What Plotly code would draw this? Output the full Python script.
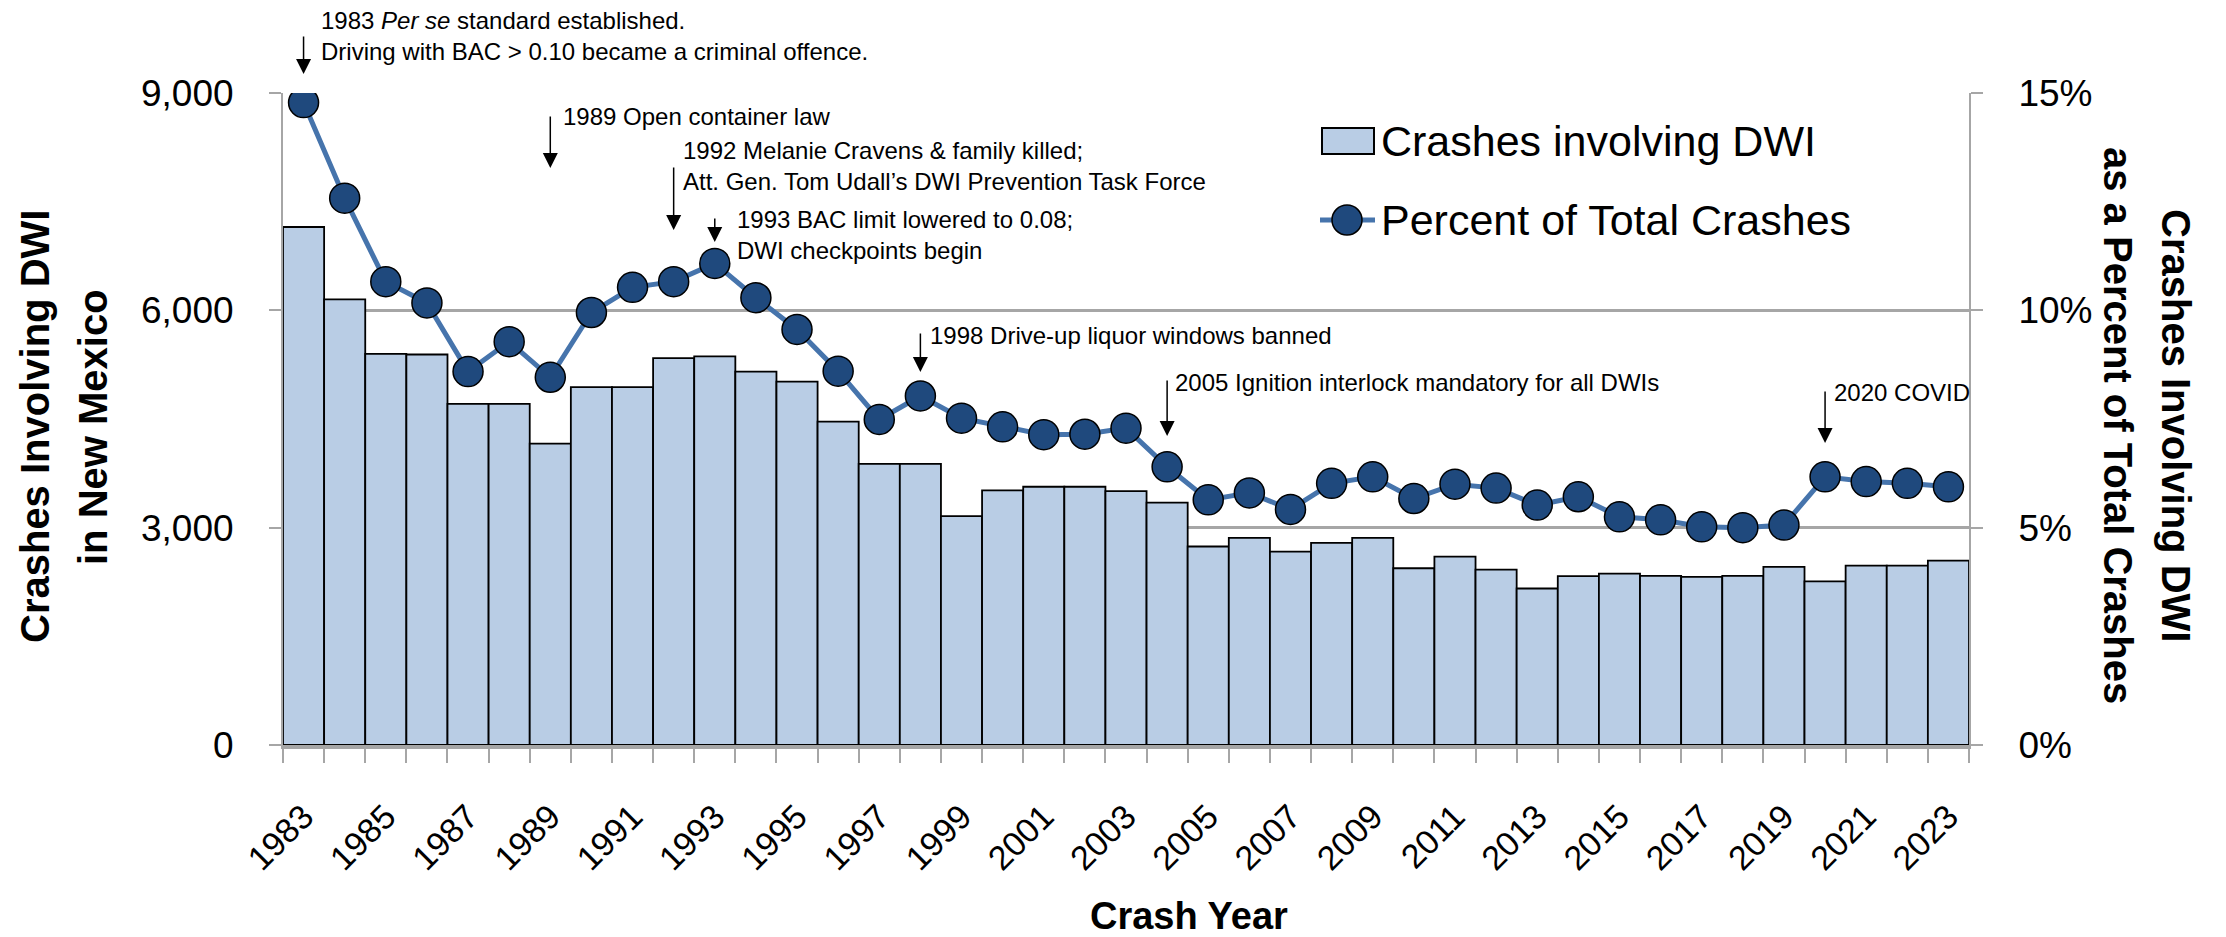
import plotly.graph_objects as go

# ---------------- data ----------------
years = list(range(1983, 2024))
dwi_crashes = [7150, 6150, 5400, 5390, 4710, 4710, 4160, 4940, 4940, 5340,
               5365, 5155, 5015, 4465, 3880, 3880, 3160, 3515, 3565, 3565,
               3505, 3345, 2740, 2860, 2670, 2790, 2860, 2440, 2600, 2420,
               2160, 2330, 2365, 2335, 2320, 2335, 2460, 2260, 2475, 2475,
               2545]
pct_total = [14.78, 12.58, 10.66, 10.17, 8.59, 9.28, 8.46, 9.95, 10.53, 10.66,
             11.08, 10.29, 9.56, 8.60, 7.49, 8.03, 7.52, 7.32, 7.14, 7.15,
             7.29, 6.40, 5.64, 5.80, 5.42, 6.02, 6.17, 5.67, 6.00, 5.91,
             5.52, 5.71, 5.25, 5.18, 5.02, 5.00, 5.06, 6.17, 6.06, 6.02,
             5.94]
pct_frac = [v / 100 for v in pct_total]
label_years = years[::2]
label_text = [str(y) for y in label_years]
left_ticks = [0, 3000, 6000, 9000]
right_ticks = [0, 0.05, 0.10, 0.15]

event_years = [1983, 1989, 1992, 1993, 1998, 2004, 2020]
event_texts = [
    "1983 <i>Per se</i> standard established.<br>Driving with BAC > 0.10 became a criminal offence.",
    "1989 Open container law",
    "1992 Melanie Cravens & family killed;<br>Att. Gen. Tom Udall’s DWI Prevention Task Force",
    "1993 BAC limit lowered to 0.08;<br>DWI checkpoints begin",
    "1998 Drive-up liquor windows banned",
    "2005 Ignition interlock mandatory for all DWIs",
    "2020 COVID",
]

# ---------------- layout geometry (pixels) ----------------
W, H = 2226, 937
L, R, T, B = 283, 1969, 93, 745
PW, PH = R - L, B - T

def px_x(x):
    return (x - L) / PW

def px_y(y):
    return (B - y) / PH

# (arrow tail y, arrow tip y, text centre y, text x shift)
event_layout = [
    (35, 74, 36, 15),
    (115, 168, 116, 11),
    (166, 230, 166, 7),
    (217, 242, 235, 20),
    (332, 372, 335, 8),
    (379, 436, 382, 6),
    (390, 443, 392, 7),
]

BAR_FILL = "#B9CDE5"
LINE_COL = "#4674AC"
MARK_COL = "#1F497D"
GRID = "#A6A6A6"
FONT = "Liberation Sans, Arial, sans-serif"

fig = go.Figure()
fig.add_trace(go.Bar(
    x=years, y=dwi_crashes, width=1,
    marker=dict(color=BAR_FILL, line=dict(color="black", width=1.8)),
    name="Crashes involving DWI", showlegend=False, yaxis="y"))
fig.add_trace(go.Scatter(
    x=years, y=pct_frac, mode="lines+markers",
    line=dict(color=LINE_COL, width=5),
    marker=dict(size=30, color=MARK_COL, line=dict(color="black", width=1.5)),
    name="Percent of Total Crashes", showlegend=False, yaxis="y2"))

boundaries = [y - 0.5 for y in years] + [years[-1] + 0.5]

fig.update_layout(
    width=W, height=H,
    margin=dict(l=L, r=W - R, t=T, b=H - B),
    paper_bgcolor="white", plot_bgcolor="white",
    font=dict(family=FONT, color="black"),
    xaxis=dict(
        range=[years[0] - 0.5, years[-1] + 0.5],
        tickmode="array", tickvals=label_years, ticktext=label_text,
        tickangle=-45, ticks="", ticklabelstandoff=34,
        tickfont=dict(size=34, family=FONT),
        showline=True, linecolor=GRID, linewidth=4,
        showgrid=False, zeroline=False,
        minor=dict(tickmode="array", tickvals=boundaries, ticks="outside",
                   ticklen=14, tickwidth=2, tickcolor=GRID, showgrid=False),
    ),
    yaxis=dict(
        range=[0, 9000], tickmode="array", tickvals=left_ticks,
        tickformat=",", ticks="outside", ticklen=12, tickwidth=2, tickcolor=GRID,
        tickfont=dict(size=37, family=FONT), ticklabelstandoff=28,
        showline=True, linecolor=GRID, linewidth=2,
        showgrid=True, gridcolor=GRID, gridwidth=3, zeroline=False,
    ),
    yaxis2=dict(
        range=[0, 0.15], overlaying="y", side="right",
        tickmode="array", tickvals=right_ticks, tickformat=".0%",
        ticks="outside", ticklen=12, tickwidth=2, tickcolor=GRID,
        tickfont=dict(size=37, family=FONT), ticklabelstandoff=28,
        showline=True, linecolor=GRID, linewidth=2,
        showgrid=False, zeroline=False,
    ),
)

annotations = []
TITLE_FONT = dict(size=40, family=FONT, weight="bold")
# axis titles (one annotation per line)
for txt, cx in [("Crashes Involving DWI", 35), ("in New Mexico", 93)]:
    annotations.append(dict(
        text=txt, textangle=-90, xref="paper", yref="paper",
        x=px_x(cx), y=px_y(427), xanchor="center", yanchor="middle",
        showarrow=False, font=TITLE_FONT))
for txt, cx in [("Crashes Involving DWI", 2176), ("as a Percent of Total Crashes", 2118)]:
    annotations.append(dict(
        text=txt, textangle=90, xref="paper", yref="paper",
        x=px_x(cx), y=px_y(425), xanchor="center", yanchor="middle",
        showarrow=False, font=TITLE_FONT))
annotations.append(dict(
    text="Crash Year", xref="paper", yref="paper",
    x=px_x(1189), y=px_y(916), xanchor="center", yanchor="middle",
    showarrow=False, font=dict(size=38, family=FONT, weight="bold")))

# events
for yr, txt, (tail, tip, ty, xs) in zip(event_years, event_texts, event_layout):
    annotations.append(dict(
        x=yr, xref="x", y=px_y(tip), yref="paper", text="",
        showarrow=True, ax=0, ay=tail - tip, axref="pixel", ayref="pixel",
        arrowhead=2, arrowsize=2, arrowwidth=1.5, arrowcolor="black"))
    annotations.append(dict(
        x=yr, xref="x", xshift=xs, y=px_y(ty), yref="paper", text=txt,
        xanchor="left", yanchor="middle", align="left", showarrow=False,
        font=dict(size=24, family=FONT)))

# manual legend
annotations.append(dict(
    text="Crashes involving DWI", xref="paper", yref="paper",
    x=px_x(1379), y=px_y(141), xanchor="left", yanchor="middle",
    showarrow=False, font=dict(size=43, family=FONT)))
annotations.append(dict(
    text="Percent of Total Crashes", xref="paper", yref="paper",
    x=px_x(1379), y=px_y(220), xanchor="left", yanchor="middle",
    showarrow=False, font=dict(size=43, family=FONT)))

shapes = [
    dict(type="rect", xref="paper", yref="paper",
         x0=px_x(1322), x1=px_x(1374), y0=px_y(154), y1=px_y(128),
         fillcolor=BAR_FILL, line=dict(color="black", width=2)),
    dict(type="line", xref="paper", yref="paper",
         x0=px_x(1320), x1=px_x(1375), y0=px_y(220), y1=px_y(220),
         line=dict(color=LINE_COL, width=5)),
    dict(type="circle", xref="paper", yref="paper",
         x0=px_x(1332), x1=px_x(1362), y0=px_y(235), y1=px_y(205),
         fillcolor=MARK_COL, line=dict(color="black", width=1.5)),
]

fig.update_layout(annotations=annotations, shapes=shapes)
fig.write_html("out.html", config={"displayModeBar": False},
               post_script="document.body.style.margin='0';document.body.style.overflow='hidden';")
